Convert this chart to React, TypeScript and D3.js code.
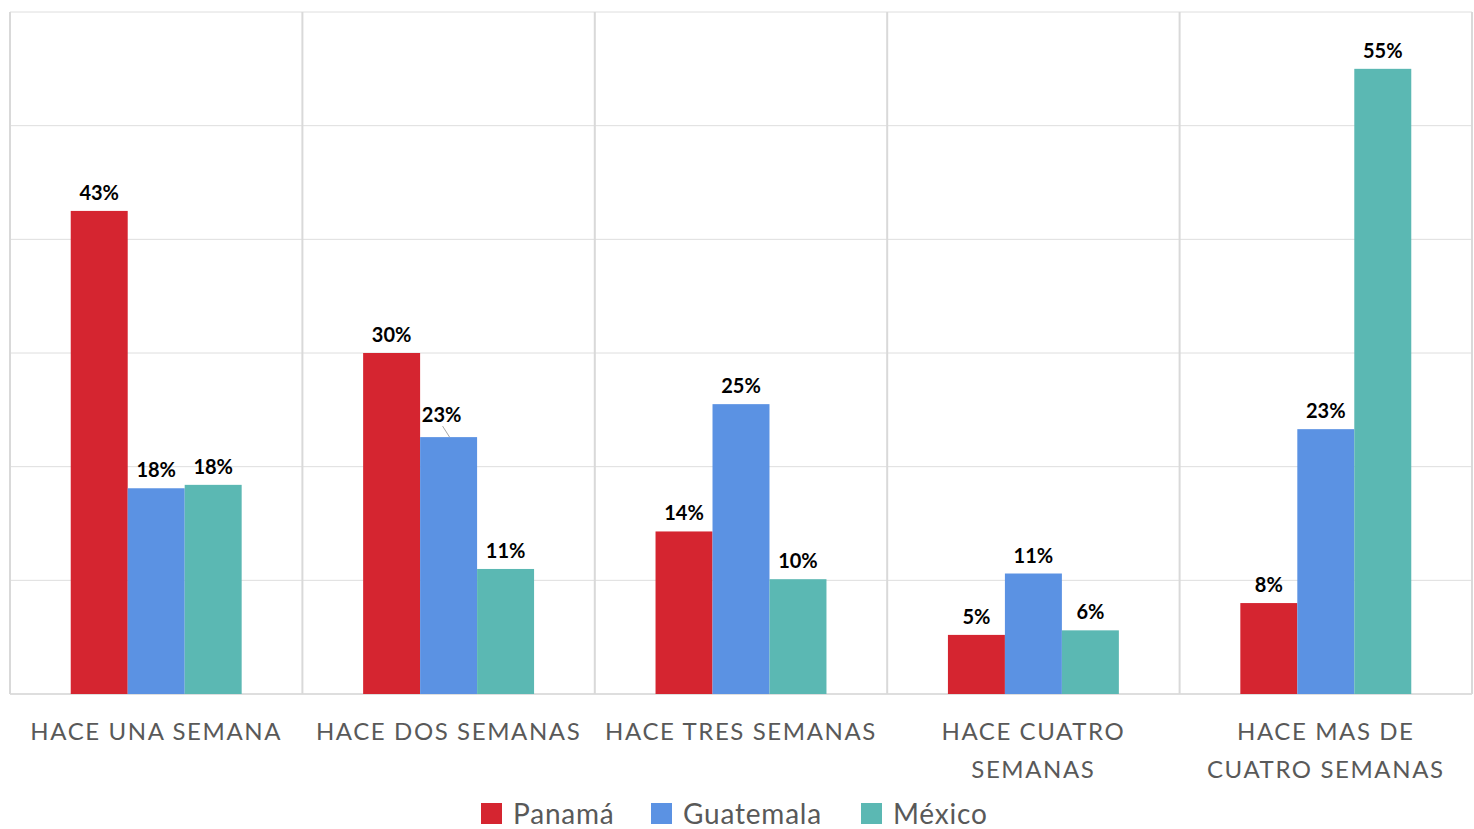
import React from "react";
import * as d3 from "d3";

const categories = [
  ["HACE UNA SEMANA"],
  ["HACE DOS SEMANAS"],
  ["HACE TRES SEMANAS"],
  ["HACE CUATRO", "SEMANAS"],
  ["HACE MAS DE", "CUATRO SEMANAS"],
];
const seriesNames = ["Panamá", "Guatemala", "México"];
const panama = [42.5, 30.0, 14.3, 5.2, 8.0];
const guatemala = [18.1, 22.6, 25.5, 10.6, 23.3];
const mexico = [18.4, 11.0, 10.1, 5.6, 55.0];
const labelsPanama = ["43%", "30%", "14%", "5%", "8%"];
const labelsGuatemala = ["18%", "23%", "25%", "11%", "23%"];
const labelsMexico = ["18%", "11%", "10%", "6%", "55%"];
const colors = ["#d52530", "#5b92e3", "#5bb8b3"];
const yTicks = [0, 10, 20, 30, 40, 50, 60];

const W = 1474;
const H = 829;
const left = 10;
const right = 1472;
const top = 12;
const bottom = 694;

export default function App() {
  const series = [panama, guatemala, mexico];
  const labels = [labelsPanama, labelsGuatemala, labelsMexico];
  const x0 = d3
    .scaleBand<number>()
    .domain(d3.range(categories.length))
    .range([left, right])
    .paddingInner(0)
    .paddingOuter(0);
  const groupPad = 0.2077;
  const x1 = d3
    .scaleBand<number>()
    .domain([0, 1, 2])
    .range([x0.bandwidth() * groupPad, x0.bandwidth() * (1 - groupPad)]);
  const y = d3.scaleLinear().domain([0, 60]).range([bottom, top]);
  const font = "'Gill Sans', Lato, 'Open Sans', sans-serif";

  return (
    <div style={{ position: "absolute", left: 0, top: 0 }}>
      <svg width={W} height={H} style={{ display: "block" }}>
        <rect width={W} height={H} fill="#fff" />
        {yTicks.map((t) => (
          <line
            key={t}
            x1={left}
            x2={right}
            y1={y(t)}
            y2={y(t)}
            stroke="#dedede"
            strokeWidth={t === 0 ? 2 : 1}
          />
        ))}
        {d3.range(categories.length + 1).map((i) => {
          const xx = i < categories.length ? x0(i)! : right;
          return (
            <line
              key={i}
              x1={xx}
              x2={xx}
              y1={top}
              y2={bottom}
              stroke="#d9d9d9"
              strokeWidth={2}
            />
          );
        })}
        {categories.map((c, ci) =>
          series.map((s, si) => {
            const bx = x0(ci)! + x1(si)!;
            const by = y(s[ci]);
            // the one label moved off its bar (with a leader line)
            const moved = ci === 1 && si === 1;
            const lx = bx + x1.bandwidth() / 2 + (moved ? -7 : 0);
            const ly = by - 11 + (moved ? -4 : 0);
            return (
              <g key={`${ci}-${si}`}>
                <rect
                  x={bx}
                  y={by}
                  width={x1.bandwidth()}
                  height={bottom - by}
                  fill={colors[si]}
                />
                {moved && (
                  <line
                    x1={lx + 1}
                    y1={ly + 4}
                    x2={lx + 8}
                    y2={by}
                    stroke="#a6a6a6"
                    strokeWidth={1}
                  />
                )}
                <text
                  x={lx}
                  y={ly}
                  textAnchor="middle"
                  fontFamily={font}
                  fontWeight="bold"
                  fontSize={20}
                  fill="#000"
                >
                  {labels[si][ci]}
                </text>
              </g>
            );
          })
        )}
        {categories.map((c, ci) => (
          <text
            key={ci}
            x={x0(ci)! + x0.bandwidth() / 2}
            y={740}
            textAnchor="middle"
            fontFamily={font}
            fontSize={24}
            fill="#595959"
            letterSpacing={1.6}
          >
            {c.map((line, li) => (
              <tspan key={li} x={x0(ci)! + x0.bandwidth() / 2} dy={li === 0 ? 0 : 38}>
                {line}
              </tspan>
            ))}
          </text>
        ))}
        {seriesNames.map((n, i) => {
          const lx = [481, 651, 861][i];
          return (
            <g key={n}>
              <rect x={lx} y={803} width={21} height={21} fill={colors[i]} />
              <text
                x={lx + 32}
                y={824}
                fontFamily={font}
                fontSize={28}
                fill="#595959"
                letterSpacing={0.8}
              >
                {n}
              </text>
            </g>
          );
        })}
      </svg>
    </div>
  );
}
